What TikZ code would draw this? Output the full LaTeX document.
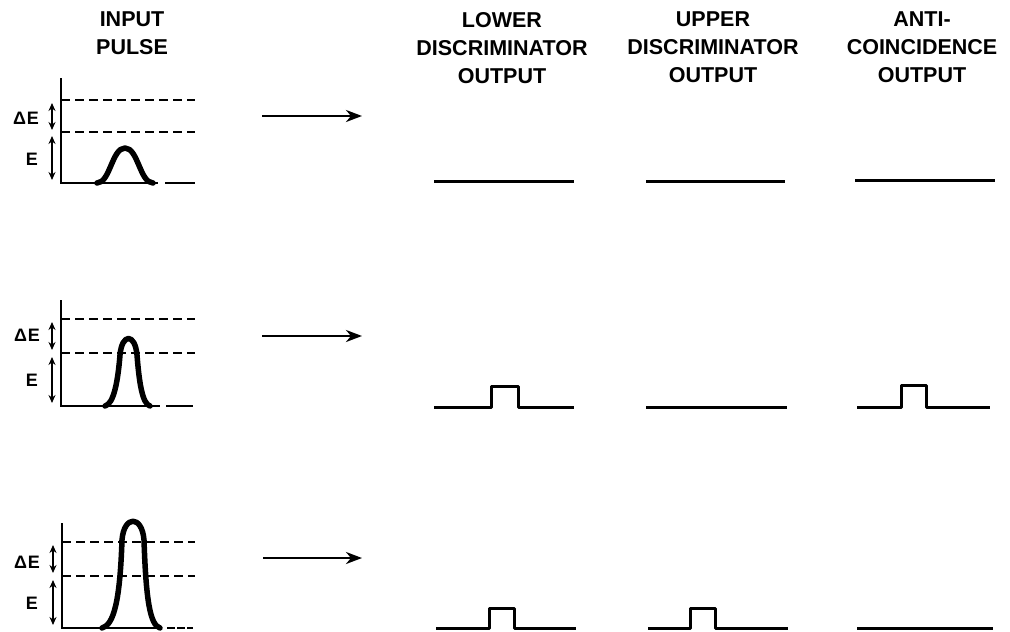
\documentclass[tikz,border=0pt]{standalone}
\usepackage{fontspec}
\setmainfont{Liberation Sans}
\usetikzlibrary{arrows.meta}
\begin{document}
\begin{tikzpicture}[x=1pt,y=-1pt,
  head/.style={font=\bfseries\fontsize{21.5}{28}\selectfont, align=center, anchor=north, inner sep=0pt},
  lab/.style={font=\bfseries\fontsize{18}{20}\selectfont, inner sep=0pt},
  axisline/.style={line width=2.8pt},
  thrline/.style={line width=2.2pt, dash pattern=on 9pt off 5pt},
  pulsecurve/.style={line width=5.5pt, line cap=round, line join=round},
  dimarrow/.style={line width=1.8pt, {Stealth[length=8pt,width=7pt]}-{Stealth[length=8pt,width=7pt]}},
  flowarrow/.style={line width=2.6pt, -{Stealth[length=16pt,width=12pt,inset=5pt]}},
  sig/.style={line width=3pt, line join=round}]
\useasboundingbox (0,0) rectangle (1010,632);

% headings
\node[head] (hin) at (132,12) {INPUT\\PULSE};
\node[head] (hlo) at (502,12) {LOWER\\DISCRIMINATOR\\OUTPUT};
\node[head] (hup) at (713,12) {UPPER\\DISCRIMINATOR\\OUTPUT};
\node[head] (hac) at (922,12) {ANTI-\\COINCIDENCE\\OUTPUT};

% ---------- row 1 ----------
\draw[axisline] (61,78) -- (61,183) -- (158,183);
\draw[axisline] (165,183) -- (195,183);
\draw[thrline] (61,100) -- (195,100);
\draw[thrline] (61,132) -- (195,132);
\draw[dimarrow] (52,103) -- (52,130);
\draw[dimarrow] (52,136) -- (52,180);
\node[lab] (de1) at (26,118) {Δ\kern1ptE};
\node[lab] (e1) at (32,159) {E};
\draw[pulsecurve] (97,183) .. controls (110,183) and (112,148) .. (125,148)
  .. controls (138,148) and (140,183) .. (153,183);
\coordinate (a1s) at (262,116); \coordinate (a1e) at (362,116);
\draw[flowarrow] (a1s) -- (a1e);
\draw[sig] (434,181) -- (574,181);
\draw[sig] (646,181) -- (785,181);
\draw[sig] (855,180) -- (995,180);

% ---------- row 2 ----------
\draw[axisline] (61,300) -- (61,406) -- (160,406);
\draw[axisline] (166,406) -- (193,406);
\draw[thrline] (61,319) -- (195,319);
\draw[thrline] (61,353) -- (195,353);
\draw[dimarrow] (52,322) -- (52,350);
\draw[dimarrow] (52,357) -- (52,403);
\node[lab] (de2) at (27,335) {Δ\kern1ptE};
\node[lab] (e2) at (32,380) {E};
\draw[pulsecurve] (105,406) .. controls (114,404) and (118,380) .. (120,355)
  .. controls (122,333) and (135,333) .. (137,355)
  .. controls (139,380) and (142,404) .. (150,406);
\coordinate (a2s) at (262,336); \coordinate (a2e) at (362,336);
\draw[flowarrow] (a2s) -- (a2e);
\draw[sig] (434,407) -- (491,407) -- (491,386) -- (518,386) -- (518,407) -- (574,407);
\draw[sig] (646,407) -- (787,407);
\draw[sig] (857,407) -- (901,407) -- (901,385) -- (926,385) -- (926,407) -- (990,407);

% ---------- row 3 ----------
\draw[axisline] (62,523) -- (62,628) -- (162,628);
\draw[axisline, dash pattern=on 8pt off 2pt] (167,628) -- (193,628);
\draw[thrline] (62,542) -- (195,542);
\draw[thrline] (62,576) -- (195,576);
\draw[dimarrow] (53,545) -- (53,573);
\draw[dimarrow] (53,580) -- (53,625);
\node[lab] (de3) at (27,562) {Δ\kern1ptE};
\node[lab] (e3) at (32,603) {E};
\draw[pulsecurve] (102,628) .. controls (114,625) and (120,600) .. (122,540)
  .. controls (124,515) and (142,515) .. (144,540)
  .. controls (146,600) and (150,625) .. (160,628);
\coordinate (a3s) at (263,558); \coordinate (a3e) at (362,558);
\draw[flowarrow] (a3s) -- (a3e);
\draw[sig] (436,628) -- (489,628) -- (489,608) -- (514,608) -- (514,628) -- (576,628);
\draw[sig] (648,628) -- (690,628) -- (690,608) -- (715,608) -- (715,628) -- (788,628);
\draw[sig] (857,628) -- (993,628);
\end{tikzpicture}
\end{document}
